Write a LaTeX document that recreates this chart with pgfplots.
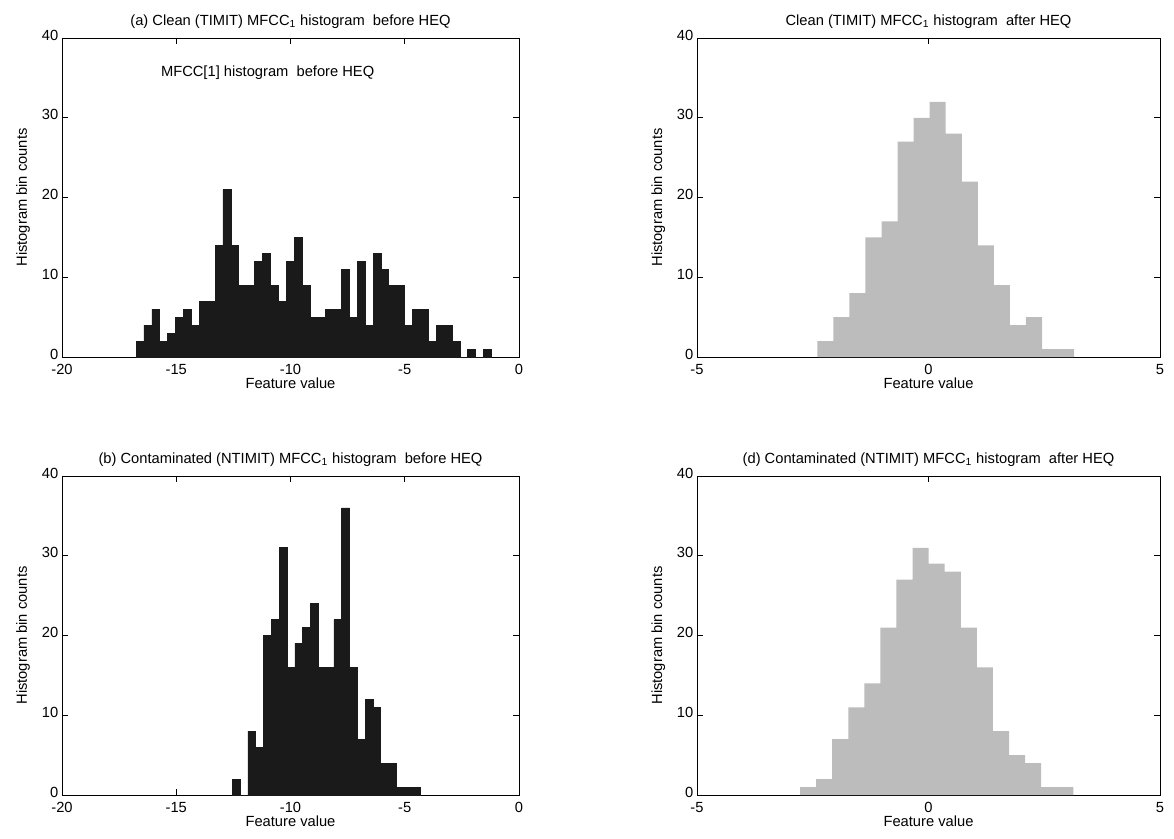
\documentclass[border=0pt]{standalone}
\usepackage{fontspec}
\setmainfont{Liberation Sans}
\usepackage{pgfplots}
\pgfplotsset{compat=1.18}

\definecolor{barblack}{RGB}{26,26,26}
\definecolor{bargray}{RGB}{188,188,188}

% shared look of the four histogram panels
\pgfplotsset{
  heqpanel/.style={
    scale only axis,
    width=304.67pt, height=212.67pt,
    ymin=0, ymax=40,
    ytick={0,10,20,30,40}, yticklabels={0,10,20,30,40},
    axis line style={line width=0.6pt},
    tick style={black, line width=0.5pt},
    major tick length=4pt,
    tick align=inside,
    xticklabel style={yshift=-1.5pt},
    yticklabel style={xshift=1pt, yshift=2pt},
    xlabel={Feature value},
    ylabel={Histogram bin counts},
    ylabel style={yshift=1pt},
    xlabel style={yshift=5pt},
    title style={yshift=-3pt},
    clip=false,
  },
  before/.style={heqpanel, xmin=-20, xmax=0,
    xtick={-20,-15,-10,-5,0}, xticklabels={-20,-15,-10,-5,0}},
  after/.style={heqpanel, xmin=-5, xmax=5, width=308.67pt,
    xtick={-5,0,5}, xticklabels={-5,0,5}},
}

\begin{document}
\begin{tikzpicture}[font=\fontsize{9.8}{11.5}\selectfont]
\useasboundingbox (0,0) rectangle (782.67pt,-559.33pt);

% (a) clean, before HEQ
\begin{axis}[before, at={(41.33pt,-238pt)}, anchor=south west,
  title={(a) Clean (TIMIT) MFCC\textsubscript{1} histogram\ \ before HEQ}]
\addplot[ybar interval, fill=barblack, draw=barblack] coordinates {
  (-16.760,2) (-16.414,4) (-16.069,6) (-15.723,2) (-15.377,3)
  (-15.032,5) (-14.686,6) (-14.340,4) (-13.994,7) (-13.649,7)
  (-13.303,14) (-12.957,21) (-12.612,14) (-12.266,9) (-11.920,9)
  (-11.575,12) (-11.229,13) (-10.883,9) (-10.537,7) (-10.192,12)
  (-9.846,15) (-9.500,9) (-9.155,5) (-8.809,5) (-8.463,6)
  (-8.118,6) (-7.772,11) (-7.426,5) (-7.080,12) (-6.735,4)
  (-6.389,13) (-6.043,11) (-5.698,9) (-5.352,9) (-5.006,4)
  (-4.661,6) (-4.315,6) (-3.969,2) (-3.623,4) (-3.278,4)
  (-2.932,2) (-2.586,0) (-2.241,1) (-1.895,0) (-1.549,1)
  (-1.203,0)
};
\node at (axis cs:-11,35.6) {MFCC[1] histogram\ \ before HEQ};
\end{axis}

% (c) clean, after HEQ
\begin{axis}[after, at={(464.67pt,-238pt)}, anchor=south west,
  title={Clean (TIMIT) MFCC\textsubscript{1} histogram\ \ after HEQ}]
\addplot[ybar interval, fill=bargray, draw=none] coordinates {
  (-2.402,2) (-2.055,5) (-1.709,8) (-1.362,15) (-1.015,17)
  (-0.669,27) (-0.322,30) (0.025,32) (0.372,28) (0.718,22)
  (1.065,14) (1.412,9) (1.758,4) (2.105,5) (2.452,1)
  (2.799,1) (3.145,0)
};
\end{axis}

% (b) contaminated, before HEQ
\begin{axis}[before, at={(41.33pt,-530pt)}, anchor=south west,
  title={(b) Contaminated (NTIMIT) MFCC\textsubscript{1} histogram\ \ before HEQ}]
\addplot[ybar interval, fill=barblack, draw=barblack] coordinates {
  (-12.547,2) (-12.205,0) (-11.863,8) (-11.521,6) (-11.179,20)
  (-10.837,22) (-10.495,31) (-10.153,16) (-9.811,19) (-9.469,21)
  (-9.127,24) (-8.785,16) (-8.443,16) (-8.101,22) (-7.759,36)
  (-7.417,16) (-7.075,7) (-6.733,12) (-6.391,11) (-6.049,4)
  (-5.707,4) (-5.365,1) (-5.023,1) (-4.681,1) (-4.339,0)
};
\end{axis}

% (d) contaminated, after HEQ
\begin{axis}[after, at={(464.67pt,-530pt)}, anchor=south west,
  title={(d) Contaminated (NTIMIT) MFCC\textsubscript{1} histogram\ \ after HEQ}]
\addplot[ybar interval, fill=bargray, draw=none] coordinates {
  (-2.775,1) (-2.428,2) (-2.081,7) (-1.733,11) (-1.386,14)
  (-1.039,21) (-0.692,27) (-0.344,31) (0.003,29) (0.350,28)
  (0.697,21) (1.044,16) (1.391,8) (1.739,5) (2.086,4)
  (2.433,1) (2.780,1) (3.127,0)
};
\end{axis}
\end{tikzpicture}
\end{document}
